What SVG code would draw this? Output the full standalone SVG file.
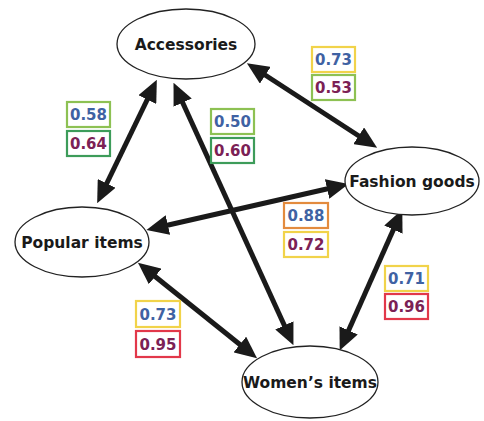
<svg xmlns="http://www.w3.org/2000/svg" width="484" height="421" viewBox="0 0 484 421">
<style>
.node ellipse{fill:#fff;stroke:#222;stroke-width:1.3}
.node text{font-family:"DejaVu Sans",sans-serif;font-weight:bold;font-size:15.5px;fill:#1a1a1a;text-anchor:middle}
.conn line{stroke:#1a1a1a;stroke-width:5;marker-start:url(#ah);marker-end:url(#ah)}
.lbl rect{fill:#fff;stroke-width:2.2}
.lbl text{font-family:"DejaVu Sans",sans-serif;font-weight:bold;font-size:15px;text-anchor:middle}
.b{fill:#3f62a3}.m{fill:#7b2155}
.y{stroke:#f1d34a}.g{stroke:#8dc153}.dg{stroke:#3d9c5a}.o{stroke:#e38b3e}.r{stroke:#e2384a}
</style>
<defs>
<marker id="ah" markerUnits="userSpaceOnUse" markerWidth="22" markerHeight="20" viewBox="0 0 22 20" refX="4" refY="10" orient="auto-start-reverse">
<path d="M0,0 L22,10 L0,20 Z" fill="#1a1a1a"/>
</marker>
</defs>
<g id="connectors" class="conn">
<line x1="262" y1="73" x2="362" y2="138"/>
<line x1="149" y1="96" x2="105" y2="187"/>
<line x1="181" y1="99" x2="286" y2="329"/>
<line x1="164" y1="226" x2="331" y2="188"/>
<line x1="152" y1="274" x2="243" y2="347"/>
<line x1="395" y1="226" x2="347" y2="334"/>
</g>
<g id="accessories" class="node"><ellipse cx="186" cy="44" rx="69" ry="35"/><text x="186" y="50">Accessories</text></g>
<g id="popular" class="node"><ellipse cx="82" cy="242" rx="67" ry="35"/><text x="82" y="248">Popular items</text></g>
<g id="fashion" class="node"><ellipse cx="412" cy="181" rx="67" ry="34"/><text x="412" y="187">Fashion goods</text></g>
<g id="womens" class="node"><ellipse cx="310" cy="382" rx="68" ry="36"/><text x="310" y="388">Women’s items</text></g>
<g id="labels" class="lbl">
<rect class="y" x="312" y="47" width="43" height="25"/><text class="b" x="333.5" y="65">0.73</text>
<rect class="g" x="312" y="75" width="43" height="25"/><text class="m" x="333.5" y="93">0.53</text>
<rect class="g" x="67" y="102" width="43" height="25"/><text class="b" x="88.5" y="120">0.58</text>
<rect class="dg" x="67" y="131" width="43" height="25"/><text class="m" x="88.5" y="149">0.64</text>
<rect class="g" x="211" y="109" width="43" height="25"/><text class="b" x="232.5" y="127">0.50</text>
<rect class="dg" x="211" y="138" width="43" height="25"/><text class="m" x="232.5" y="156">0.60</text>
<rect class="o" x="284" y="203" width="44" height="25"/><text class="b" x="306" y="221">0.88</text>
<rect class="y" x="284" y="232" width="44" height="25"/><text class="m" x="306" y="250">0.72</text>
<rect class="y" x="385" y="266" width="43" height="25"/><text class="b" x="406.5" y="284">0.71</text>
<rect class="r" x="385" y="294" width="43" height="25"/><text class="m" x="406.5" y="312">0.96</text>
<rect class="y" x="136" y="301" width="44" height="26"/><text class="b" x="158" y="320">0.73</text>
<rect class="r" x="136" y="331" width="44" height="26"/><text class="m" x="158" y="350">0.95</text>
</g>
</svg>
